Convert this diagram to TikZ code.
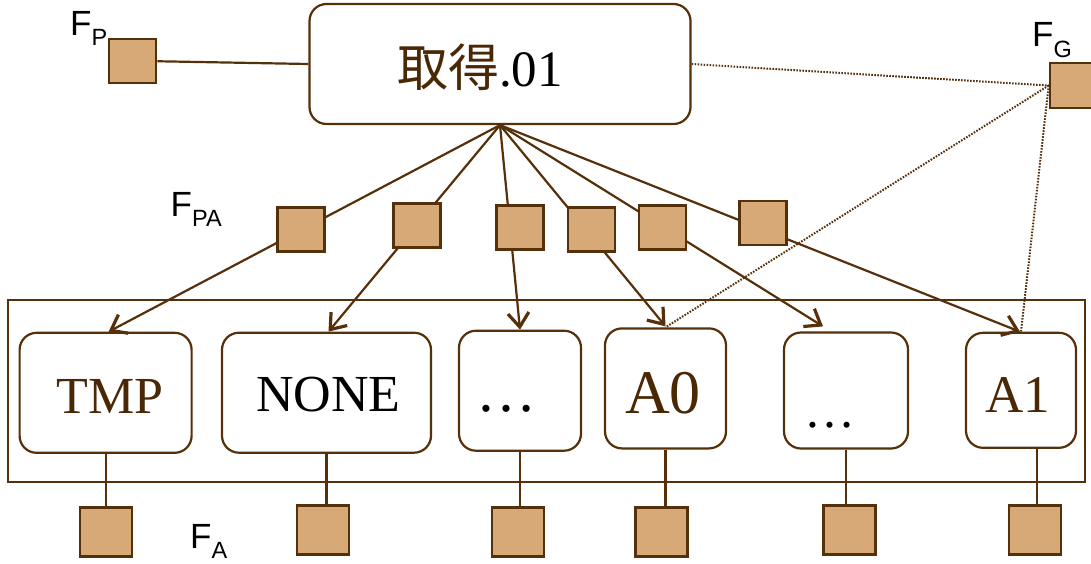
\documentclass[tikz,border=0pt]{standalone}
\usepackage{fontspec}
\setmainfont{Liberation Serif}
\setsansfont{Liberation Sans}
\newfontfamily\cjk{Noto Sans CJK JP}
\usetikzlibrary{arrows.meta}

\definecolor{wire}{HTML}{55300A}
\definecolor{ink}{HTML}{4A2806}
\definecolor{tan}{HTML}{D7A976}

\begin{document}
\begin{tikzpicture}[x=1pt,y=-1pt]
\tikzset{
    link/.style={draw=wire, line width=2.2pt},
    flow/.style={link, -{Straight Barb[length=14pt,width=21pt,line width=3.2pt]}},
    guard/.style={draw=wire, line width=2pt, dash pattern=on 1.6pt off 1.4pt},
    port/.style={draw=wire, fill=tan, line width=2.6pt, minimum width=47pt, minimum height=44pt, inner sep=0pt},
    bigport/.style={port, minimum width=52pt, minimum height=49pt},
    attr/.style={draw=wire, fill=white, line width=2.2pt, rounded corners=17pt, inner sep=0pt, text depth=0pt},
    tag/.style={font=\sffamily\fontsize{35}{35}\selectfont, inner sep=0pt, anchor=base west}}
\def\fs#1{\fontsize{#1}{#1}\selectfont}
\def\flab#1{F\raisebox{-10.5pt}{\fs{23.5}#1}}

\useasboundingbox (0,0) rectangle (1091,563);

% action node with its P and G boxes
\node[attr, minimum width=381pt, minimum height=120pt, text height=44pt] (get) at (500,64)
    {\fs{51}\textcolor{ink}{\cjk 取得}.01\kern40pt};
\node[port] (fp) at (132.6,60.8) {};
\node[port, minimum height=45pt] (fg) at (1073.5,85.5) {};
\node[tag] (lp) at (70,35) {\flab{P}};
\node[tag] (lg) at (1032,46.7) {\flab{G}};
\draw[link] (fp) -- (get.west);

% attribute row
\draw[link, line width=2.4pt] (8,300) rectangle (1085,481.7);
\node[attr, minimum width=172pt, minimum height=120pt, text height=41pt] (tmp) at (105.6,392.8)
    {\kern9pt\fs{52}\textcolor{ink}{TMP}};
\node[attr, minimum width=209pt, minimum height=120pt, text height=38pt] (none) at (326.5,392.7)
    {\kern4pt\fs{52}NONE};
\node[attr, minimum width=122pt, minimum height=120pt, text height=40.6pt] (dotsa) at (520,390.7)
    {\fs{60}…\kern28pt};
\node[attr, minimum width=121pt, minimum height=120pt, text height=51pt] (azero) at (665.5,388.4)
    {\fs{62}\textcolor{ink}{A0}\kern5pt};
\node[attr, minimum width=124pt, minimum height=116pt, text height=73pt] (dotsb) at (846,390.5)
    {\fs{51}…\kern32pt};
\node[attr, minimum width=110pt, minimum height=115pt, text height=44pt] (aone) at (1021,390.3)
    {\fs{53}\textcolor{ink}{A1}\kern7pt};

\draw[guard] (get.east) -- (fg.west);
\draw[guard] (fg.west) -- (azero.north);
\draw[guard] (fg.west) -- (aone.north);

\foreach \t/\dx/\dy in {tmp/3pt/0pt, none/2pt/0pt, dotsa/0pt/0pt, azero/0pt/1pt, dotsb/-23pt/5pt, aone/-1pt/0pt}
    \draw[flow] (get.south) -- ([xshift=\dx, yshift=\dy]\t.north);

% PA boxes sit on the arrows
\foreach \n/\x/\y in {1/301/229.7, 2/417/225.5, 3/520.2/227.5, 4/591.3/229.7, 5/662.5/227.5, 6/763/222.8}
    \node[port] (pa\n) at (\x,\y) {};
\node[tag] (lpa) at (170.5,216) {\flab{PA}};

% A boxes under the row
\foreach \n/\x/\y in {1/106/532.2, 2/323/530, 3/518/532.2, 4/661.5/532.2, 5/849.7/530, 6/1035/530}
    \node[bigport] (fa\n) at (\x,\y) {};
\foreach \t/\n/\dx in {tmp/1/0pt, none/2/0pt, dotsa/3/0pt, azero/4/0pt, dotsb/5/0pt, aone/6/16pt}
    \draw[link] ([xshift=\dx]\t.south) -- ([xshift=\dx]\t.south |- fa\n.north);
\node[tag] (la) at (190,548) {\flab{A}};

\end{tikzpicture}
\end{document}
